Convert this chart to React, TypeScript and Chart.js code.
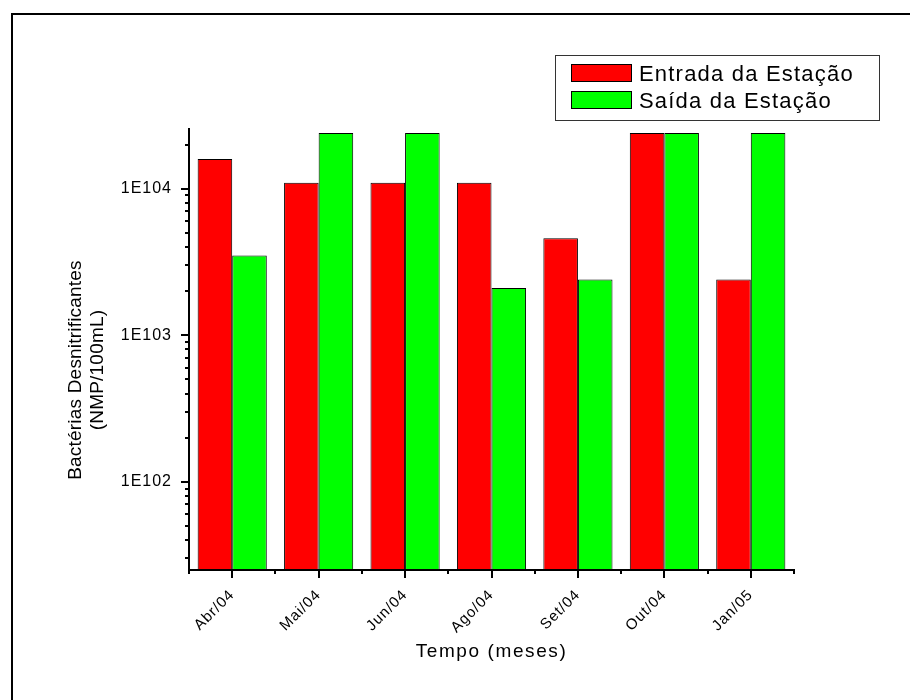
import React, { useEffect, useRef } from 'react';
import { Chart, registerables } from 'chart.js';

Chart.register(...registerables);

// Monthly counts of denitrifying bacteria (NMP/100mL)
const months = ['Abr/04', 'Mai/04', 'Jun/04', 'Ago/04', 'Set/04', 'Out/04', 'Jan/05'];
const entrada = [16000, 11000, 11000, 11000, 4600, 24000, 2400];
const saida = [3500, 24000, 24000, 2100, 2400, 24000, 24000];
const seriesNames = ['Entrada da Estação', 'Saída da Estação'];
const seriesColors = ['#ff0000', '#00ff00'];

// Decade labels on the logarithmic axis
const yDecadeValues = [100, 1000, 10000];
const yDecadeLabels = ['1E102', '1E103', '1E104'];
const yMin = 25;
const yMax = 26000;

const xTitle = 'Tempo (meses)';
const yTitleLines = ['Bactérias Desnitrificantes', '(NMP/100mL)'];

const FONT = '"Liberation Sans", Arial, Helvetica, sans-serif';

const decorPlugin = {
  id: 'decor',
  beforeUpdate(chart: any) {
    chart.ctx.letterSpacing = '1px';
  },
  beforeDraw(chart: any) {
    const ctx = chart.ctx;
    ctx.letterSpacing = '1px';
    ctx.save();
    ctx.fillStyle = '#ffffff';
    ctx.fillRect(0, 0, chart.width, chart.height);
    ctx.restore();
  },
  afterDatasetsDraw(chart: any) {
    const { ctx, chartArea: a } = chart;
    const xs = chart.scales.x;
    const ys = chart.scales.y;
    ctx.save();
    ctx.strokeStyle = '#000';
    ctx.lineWidth = 2;
    ctx.lineCap = 'butt';
    ctx.beginPath();
    // axis lines
    ctx.moveTo(a.left, a.top);
    ctx.lineTo(a.left, a.bottom + 1);
    ctx.moveTo(a.left - 1, a.bottom);
    ctx.lineTo(a.right + 1, a.bottom);
    // y ticks: long at decades, short in between
    for (let e = 1; e <= 4; e++) {
      for (let m = 1; m <= 9; m++) {
        const v = m * Math.pow(10, e);
        if (v < yMin || v > yMax) continue;
        const y = Math.round(ys.getPixelForValue(v));
        const len = m === 1 ? 8 : 4;
        ctx.moveTo(a.left, y);
        ctx.lineTo(a.left - len, y);
      }
    }
    // x ticks: long at category centres, short at category boundaries
    for (let i = 0; i < months.length; i++) {
      const x = Math.round(xs.getPixelForValue(i));
      ctx.moveTo(x, a.bottom);
      ctx.lineTo(x, a.bottom + 8);
    }
    for (let i = 0; i <= months.length; i++) {
      const x = Math.round(xs.getPixelForValue(i - 0.5));
      ctx.moveTo(x, a.bottom);
      ctx.lineTo(x, a.bottom + 4);
    }
    ctx.stroke();
    ctx.restore();
  },
  afterDraw(chart: any) {
    const { ctx, chartArea: a } = chart;
    ctx.save();
    ctx.fillStyle = '#000';

    // x axis title
    ctx.font = `19px ${FONT}`;
    ctx.letterSpacing = '1.6px';
    ctx.textAlign = 'center';
    ctx.textBaseline = 'alphabetic';
    ctx.fillText(xTitle, (a.left + a.right) / 2, 657);

    // y axis title, two lines
    ctx.save();
    ctx.font = `19px ${FONT}`;
    ctx.letterSpacing = '0.2px';
    ctx.translate(80.5, 370);
    ctx.rotate(-Math.PI / 2);
    ctx.fillText(yTitleLines[0], 0, 0);
    ctx.fillText(yTitleLines[1], 0, 22);
    ctx.restore();

    // legend box
    ctx.lineWidth = 1;
    ctx.strokeStyle = '#333';
    ctx.strokeRect(555.5, 55.5, 324, 65);
    ctx.font = `22px ${FONT}`;
    ctx.letterSpacing = '1.2px';
    ctx.textAlign = 'left';
    const rows = [64, 91];
    const baselines = [81, 108];
    for (let i = 0; i < seriesNames.length; i++) {
      ctx.fillStyle = seriesColors[i];
      ctx.fillRect(571, rows[i], 61, 18);
      ctx.strokeStyle = '#000';
      ctx.strokeRect(571.5, rows[i] + 0.5, 60, 17);
      ctx.fillStyle = '#000';
      ctx.fillText(seriesNames[i], 639, baselines[i]);
    }

    // outer frame
    ctx.lineWidth = 2;
    ctx.strokeStyle = '#000';
    ctx.beginPath();
    ctx.moveTo(12, chart.height);
    ctx.lineTo(12, 14);
    ctx.lineTo(chart.width, 14);
    ctx.stroke();
    ctx.restore();
  },
};

export default function App() {
  const canvasRef = useRef<HTMLCanvasElement | null>(null);

  useEffect(() => {
    const canvas = canvasRef.current;
    if (!canvas) return;
    const chart = new Chart(canvas, {
      type: 'bar',
      data: {
        labels: months,
        datasets: [
          {
            label: seriesNames[0],
            data: entrada,
            backgroundColor: seriesColors[0],
            borderColor: '#000',
            borderWidth: 1,
            categoryPercentage: 0.8,
            barPercentage: 1.0,
          },
          {
            label: seriesNames[1],
            data: saida,
            backgroundColor: seriesColors[1],
            borderColor: '#000',
            borderWidth: 1,
            categoryPercentage: 0.8,
            barPercentage: 1.0,
          },
        ],
      },
      options: {
        responsive: false,
        animation: false,
        events: [],
        layout: { padding: { left: 0, top: 128, right: 116, bottom: 0 } },
        plugins: {
          legend: { display: false },
          tooltip: { enabled: false },
        },
        scales: {
          x: {
            type: 'category',
            position: 'bottom',
            grid: { display: false, drawTicks: true, tickLength: 8 },
            border: { display: false },
            ticks: {
              color: '#000',
              font: { family: FONT, size: 15 },
              minRotation: 45,
              maxRotation: 45,
              padding: 8,
              autoSkip: false,
            },
            afterFit(scale: any) {
              scale.height = 130;
            },
          },
          y: {
            type: 'logarithmic',
            min: yMin,
            max: yMax,
            grid: { display: false, drawTicks: true, tickLength: 8 },
            border: { display: false },
            ticks: {
              color: '#000',
              font: { family: FONT, size: 16 },
              padding: 9,
              autoSkip: false,
              callback: (value: any) => {
                const idx = yDecadeValues.indexOf(Number(value));
                return idx >= 0 ? yDecadeLabels[idx] : '';
              },
            },
            afterFit(scale: any) {
              scale.width = 189;
            },
          },
        },
      },
      plugins: [decorPlugin],
    } as any);
    return () => chart.destroy();
  }, []);

  return (
    <div style={{ position: 'fixed', left: 0, top: 0, width: 910, height: 700, background: '#fff' }}>
      <canvas ref={canvasRef} width={910} height={700} style={{ display: 'block' }} />
    </div>
  );
}
